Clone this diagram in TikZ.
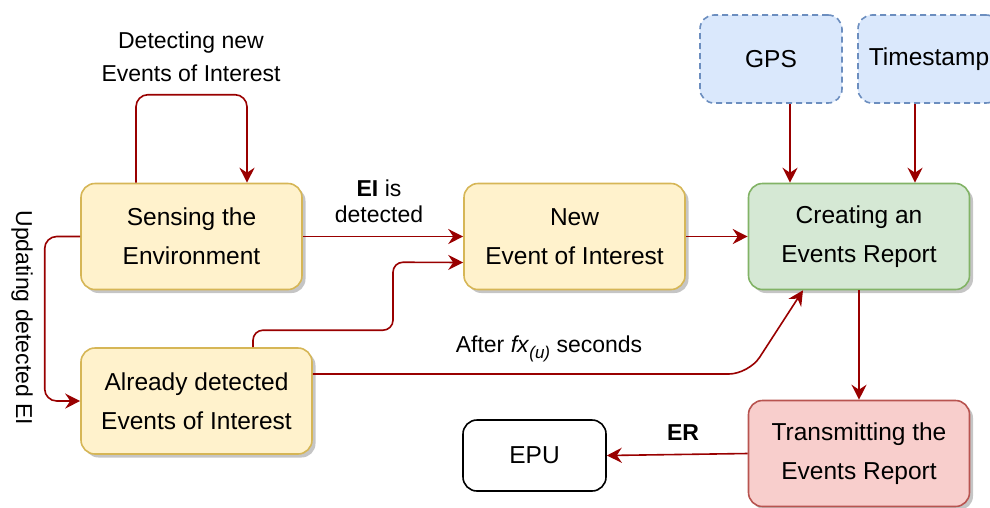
\documentclass[tikz,border=0pt]{standalone}
\usepackage{fontspec}
\setmainfont{Liberation Sans}
\usetikzlibrary{arrows.meta,shadows}
\definecolor{edgecol}{HTML}{990000}
\definecolor{yfill}{HTML}{FFF2CC}\definecolor{ydraw}{HTML}{D6B656}
\definecolor{gfill}{HTML}{D5E8D4}\definecolor{gdraw}{HTML}{82B366}
\definecolor{rfill}{HTML}{F8CECC}\definecolor{rdraw}{HTML}{B85450}
\definecolor{bfill}{HTML}{DAE8FC}\definecolor{bdraw}{HTML}{6C8EBF}
\tikzset{
  box/.style={rectangle, rounded corners=14pt, line width=1.6pt, align=center,
    font=\fontsize{24.5}{39}\selectfont, inner sep=0pt},
  shadowed/.style={drop shadow={shadow xshift=3.5pt, shadow yshift=-3.5pt, fill=black!45, opacity=0.5}},
  procbox/.style={box, shadowed, minimum width=221pt, minimum height=106pt},
  ybox/.style={procbox, fill=yfill, draw=ydraw},
  gbox/.style={procbox, fill=gfill, draw=gdraw},
  rbox/.style={procbox, fill=rfill, draw=rdraw},
  bbox/.style={box, fill=bfill, draw=bdraw, dash pattern=on 6pt off 4pt, minimum width=142pt, minimum height=88pt},
  wbox/.style={box, fill=white, draw=black, minimum width=143pt, minimum height=71pt},
  arr/.style={draw=edgecol, line width=1.6pt, -{Stealth[length=15pt,width=15pt,inset=5pt]}},
  lbl/.style={align=center, inner sep=0pt, font=\fontsize{23}{33}\selectfont}
}
\begin{document}
\begin{tikzpicture}[x=1pt,y=-1pt]
\useasboundingbox (0,0) rectangle (990,507);
\clip (0,0) rectangle (990,507);

\node[ybox] (sense) at (191.5,236.5) {Sensing the\\Environment};
\node[ybox] (newei) at (574.5,236.5) {New\\Event of Interest};
\node[gbox] (create) at (859,236.5) {Creating an\\Events Report};
\node[ybox, minimum width=231pt] (already) at (196.5,401) {Already detected\\Events of Interest};
\node[rbox] (trans) at (859,453.5) {Transmitting the\\Events Report};
\node[wbox] (epu) at (534.5,455.5) {EPU};
\node[bbox] (gps) at (771,59) {GPS};
\node[bbox] (ts) at (929,59) {Timestamp};

% self loop
\draw[arr, rounded corners=12pt] ([xshift=-55.5pt]sense.north) -- ++(0,-88) -- ++(111,0) -- ([xshift=55.5pt]sense.north);
\node[lbl] (lloop) at (191,56.5) {Detecting new\\Events of Interest};

% sense -> new EI
\draw[arr] (sense.east) -- (newei.west);
\node[lbl, font=\fontsize{23}{26}\selectfont] (lei) at (379,201) {\textbf{EI} is\\detected};

% sense -> already
\draw[arr, rounded corners=12pt] (sense.west) -- ++(-35.5,0) |- (already.west);
\node[lbl, rotate=-90] (lupd) at (22,318) {Updating detected EI};

% already -> new EI
\draw[arr, rounded corners=10pt] ([xshift=56.5pt]already.north) -- ++(0,-17) -- ++(140,0) -- ++(0,-68) -- ([yshift=-26pt]newei.west);

% new EI -> create
\draw[arr] (newei.east) -- (create.west);

% already -> create
\draw[arr, rounded corners=20pt] ([yshift=27pt]already.east) -- ++(436,0) -- ([xshift=-56pt]create.south);
\node[lbl] (lafter) at (549,349) {After \textit{fx}\raisebox{-6pt}{\fontsize{17}{17}\selectfont\itshape(u)} seconds};

% gps, ts -> create
\draw[arr] ([xshift=19pt]gps.south) -- ([xshift=-69pt]create.north);
\draw[arr] ([xshift=-14pt]ts.south) -- ([xshift=56pt]create.north);

% create -> trans
\draw[arr] (create.south) -- (create.south |- trans.north);

% trans -> epu
\draw[arr] (trans.west) -- (epu.east);
\node[lbl] (ler) at (683,433) {\textbf{ER}};
\end{tikzpicture}
\end{document}
